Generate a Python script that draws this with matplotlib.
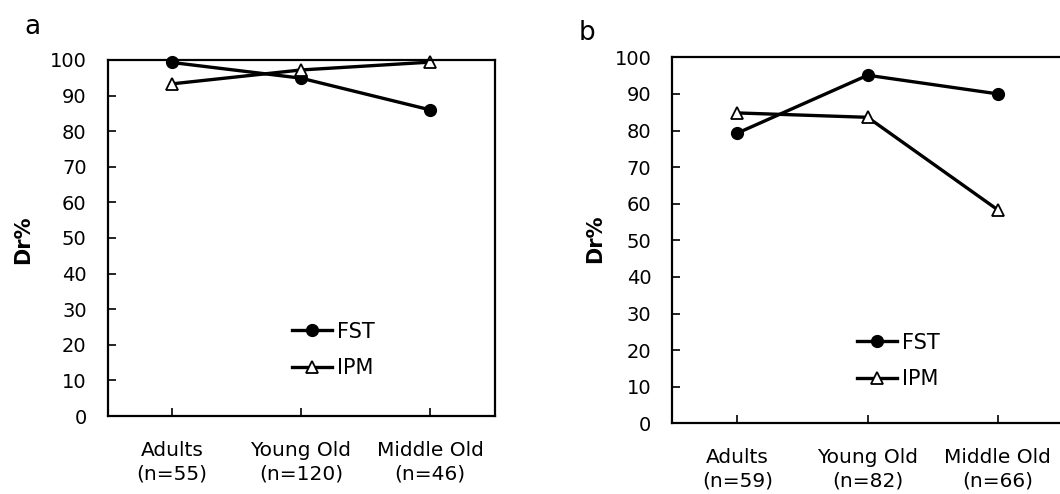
import numpy as np
import matplotlib.pyplot as plt

# -----------------------------
# Data
# -----------------------------
groups_a = ["Adults\n(n=55)", "Young Old\n(n=120)", "Middle Old\n(n=46)"]
fst_a = [99.3, 94.9, 86.0]
ipm_a = [93.3, 97.2, 99.4]

groups_b = ["Adults\n(n=59)", "Young Old\n(n=82)", "Middle Old\n(n=66)"]
fst_b = [79.3, 95.1, 90.0]
ipm_b = [84.8, 83.6, 58.3]

yticks = list(range(0, 101, 10))

# -----------------------------
# Figure
# -----------------------------
plt.rcParams["font.family"] = "DejaVu Sans"

W, H = 1060, 494
fig = plt.figure(figsize=(W / 100, H / 100), dpi=100)


def px_axes(left, top, right, bottom):
    return fig.add_axes([left / W, 1 - bottom / H, (right - left) / W, (bottom - top) / H])


def draw_panel(ax, groups, fst, ipm, leg_anchor, ylab_xy):
    x = np.arange(len(groups)) + 0.5
    ax.plot(x, fst, color="black", lw=2.4, marker="o", ms=8.5,
            mfc="black", mec="black", label="FST", clip_on=False)
    ax.plot(x, ipm, color="black", lw=2.4, marker="^", ms=8.5,
            mfc="white", mec="black", mew=1.3, label="IPM", clip_on=False)

    ax.set_xlim(0, len(groups))
    ax.set_ylim(0, 100)
    ax.set_yticks(yticks)
    ax.set_yticklabels([str(v) for v in yticks], fontsize=14)
    ax.set_xticks(x)
    ax.set_xticklabels(groups, fontsize=14.5, linespacing=1.3)
    ax.tick_params(axis="y", direction="in", length=6, width=1.2, pad=15)
    ax.tick_params(axis="x", direction="in", length=6, width=1.2, pad=18)
    for s in ax.spines.values():
        s.set_linewidth(1.6)

    # y label centred at a fixed spot left of the tick labels
    ax.set_ylabel("Dr%", fontsize=15, fontweight="bold", va="center")
    ax.yaxis.set_label_coords(ylab_xy[0] / W, 1 - ylab_xy[1] / H,
                              transform=fig.transFigure)

    ax.legend(loc="center left", bbox_to_anchor=leg_anchor,
              bbox_transform=fig.transFigure, frameon=False,
              fontsize=15, handlelength=1.9, handletextpad=0.25,
              labelspacing=0.8, borderaxespad=0)


ax_a = px_axes(107.5, 60, 494.5, 416)
draw_panel(ax_a, groups_a, fst_a, ipm_a, (284 / W, 1 - 350 / H), (23, 240))

ax_b = px_axes(672.3, 57.3, 1063, 423.3)
draw_panel(ax_b, groups_b, fst_b, ipm_b, (849 / W, 1 - 361 / H), (595, 239))

fig.text(24 / W, 1 - 27 / H, "a", fontsize=19, va="center", ha="left")
fig.text(579 / W, 1 - 33 / H, "b", fontsize=19, va="center", ha="left")

fig.savefig("out.png", dpi=100)
